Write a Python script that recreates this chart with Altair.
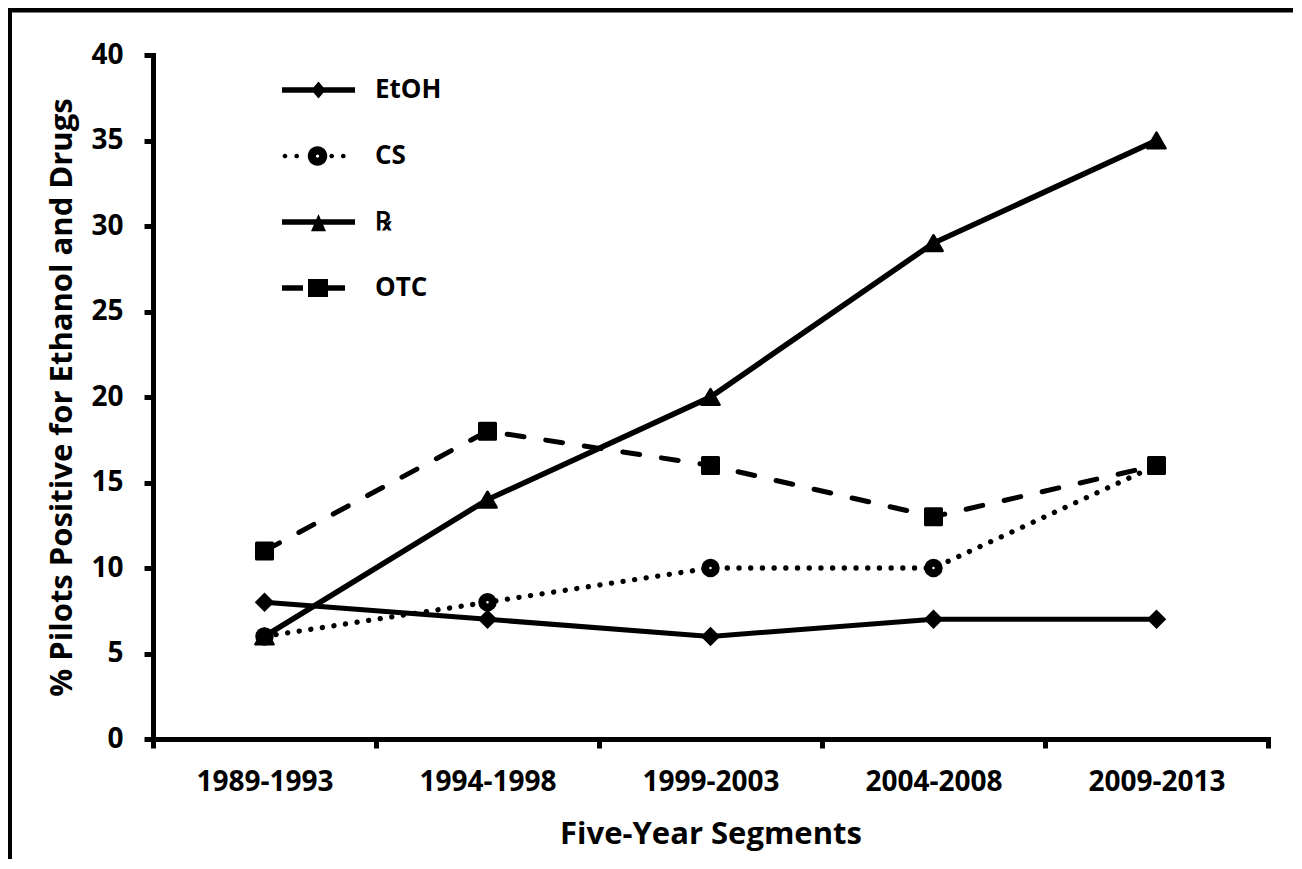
import json
import altair as alt
import pandas as pd

# ---------------- data ----------------
segments = ["1989-1993", "1994-1998", "1999-2003", "2004-2008", "2009-2013"]
series_names = ["EtOH", "CS", "\u211e", "OTC"]
etoh = [8, 7, 6, 7, 7]
cs = [6, 8, 10, 10, 16]
rx = [6, 14, 20, 29, 35]
otc = [11, 18, 16, 13, 16]
y_ticks = [0, 5, 10, 15, 20, 25, 30, 35, 40]

rows = []
for name, vals in zip(series_names, [etoh, cs, rx, otc]):
    for i, (seg, v) in enumerate(zip(segments, vals)):
        rows.append({"series": name, "idx": i, "segment": seg, "value": v})
df = pd.DataFrame(rows)

FONT = "Open Sans"

# ---------------- axes ----------------
x_values = [i * 0.5 - 0.5 for i in range(11)]  # band edges and centres
label_expr = (
    "datum.value % 1 === 0 ? " + json.dumps(segments) + "[datum.value] : ''"
)
X = alt.X(
    "idx:Q",
    scale=alt.Scale(domain=[-0.5, len(segments) - 0.5], nice=False, zero=False),
    axis=alt.Axis(
        values=x_values,
        labelExpr=label_expr,
        tickOpacity={"condition": {"test": "datum.value % 1 === 0", "value": 0}, "value": 1},
        tickSize=9,
        tickWidth=5,
        domainWidth=5,
        domainCap="square",
        labelPadding=20,
        labelFontSize=28,
        labelOverlap=False,
        labelFlush=False,
        labelBound=False,
        grid=False,
        title="Five-Year Segments",
        titleFontSize=31,
        titleBaseline="alphabetic",
        titleY=104,
    ),
)
Y = alt.Y(
    "value:Q",
    scale=alt.Scale(domain=[0, 40], nice=False, zero=True),
    axis=alt.Axis(
        values=y_ticks,
        tickSize=9,
        tickWidth=5,
        domainWidth=5,
        domainCap="square",
        labelPadding=21,
        labelFontSize=28,
        grid=False,
        title="% Pilots Positive for Ethanol and Drugs",
        titleFontSize=31,
        titleBaseline="alphabetic",
        titleX=-82,
        titleAngle=-90,
    ),
)

base = alt.Chart(df)

styles = {
    "EtOH": dict(line=dict(strokeWidth=5),
                 point=dict(shape="diamond", size=380, filled=True, color="black", strokeWidth=0)),
    "CS": dict(line=dict(strokeWidth=5.3, strokeDash=[0.1, 11.6], strokeCap="round"),
               point=dict(shape="circle", size=110, filled=False, fill="white",
                          stroke="black", strokeWidth=8)),
    "\u211e": dict(line=dict(strokeWidth=5.5),
                  point=dict(shape="triangle-up", size=330, filled=True, color="black",
                             stroke="black", strokeWidth=2.5, strokeJoin="round")),
    "OTC": dict(line=dict(strokeWidth=5, strokeDash=[17, 22], strokeCap="round"),
                point=dict(shape="square", size=256, filled=True, color="black",
                           stroke="black", strokeWidth=3, strokeJoin="round")),
}

layers = []
for name in series_names:
    sub = base.transform_filter(alt.datum.series == name)
    layers.append(sub.mark_line(color="black", **styles[name]["line"]).encode(x=X, y=Y))
    layers.append(sub.mark_point(opacity=1, **styles[name]["point"]).encode(x=X, y=Y))

# ---------------- legend (custom line+marker symbols) ----------------
def rect(x0, x1, h):
    return f"M{x0},{-h}L{x1},{-h}L{x1},{h}L{x0},{h}Z"

def circ(cx, r, sweep=1):
    return f"M{cx - r},0A{r},{r} 0 1,{sweep} {cx + r},0A{r},{r} 0 1,{sweep} {cx - r},0Z"

legend_paths = [
    rect(-1.123, 1.123, 0.085) + "M0,-0.26L0.22,0L0,0.26L-0.22,0Z",
    circ(-1.031, 0.072) + circ(-0.671, 0.072) + circ(0.406, 0.072) + circ(0.763, 0.072)
    + circ(-0.03, 0.3) + circ(-0.03, 0.05, 0),
    rect(-1.123, 1.123, 0.085) + "M0,-0.246L0.23,0.286L-0.23,0.286Z",
    rect(-1.123, -0.477, 0.085) + rect(-0.323, 0.292, 0.277) + rect(0.292, 0.815, 0.085),
]

legend_layer = base.transform_filter("false").mark_point(
    filled=True, color="black", opacity=1, size=4225, strokeWidth=0
).encode(
    x=X,
    y=Y,
    shape=alt.Shape(
        "series:N",
        scale=alt.Scale(domain=series_names, range=legend_paths),
        legend=alt.Legend(
            title=None,
            orient="none",
            legendX=133,
            legendY=2.5,
            padding=0,
            rowPadding=20,
            labelOffset=24,
            labelFontSize=26,
            labelFont=FONT,
            labelFontWeight="bold",
            labelColor="black",
            symbolSize=4225,
            symbolStrokeWidth=0,
            symbolFillColor="black",
            symbolOpacity=1,
        ),
    ),
)
layers.append(legend_layer)

# ---------------- outer frame (top and left edges) ----------------
frame_src = alt.Chart(pd.DataFrame({"k": [0]}))
frame_top = frame_src.mark_rule(color="black", strokeWidth=6).encode(
    x=alt.value(-147), x2=alt.value(1300), y=alt.value(-45.5)
)
frame_left = frame_src.mark_rule(color="black", strokeWidth=6).encode(
    x=alt.value(-144), y=alt.value(-48), y2=alt.value(900)
)

chart = (
    alt.layer(frame_top, frame_left, *layers)
    .properties(
        width=1115,
        height=684,
        autosize=alt.AutoSizeParams(type="none"),
        padding={"left": 145, "top": 47, "right": 25, "bottom": 120},
        background="white",
    )
    .configure_axis(
        labelFont=FONT,
        titleFont=FONT,
        labelFontWeight="bold",
        titleFontWeight="bold",
        labelColor="black",
        titleColor="black",
        domainColor="black",
        tickColor="black",
    )
    .configure_view(stroke=None)
)

chart.save("out.html", embed_options={"renderer": "svg", "actions": False})
